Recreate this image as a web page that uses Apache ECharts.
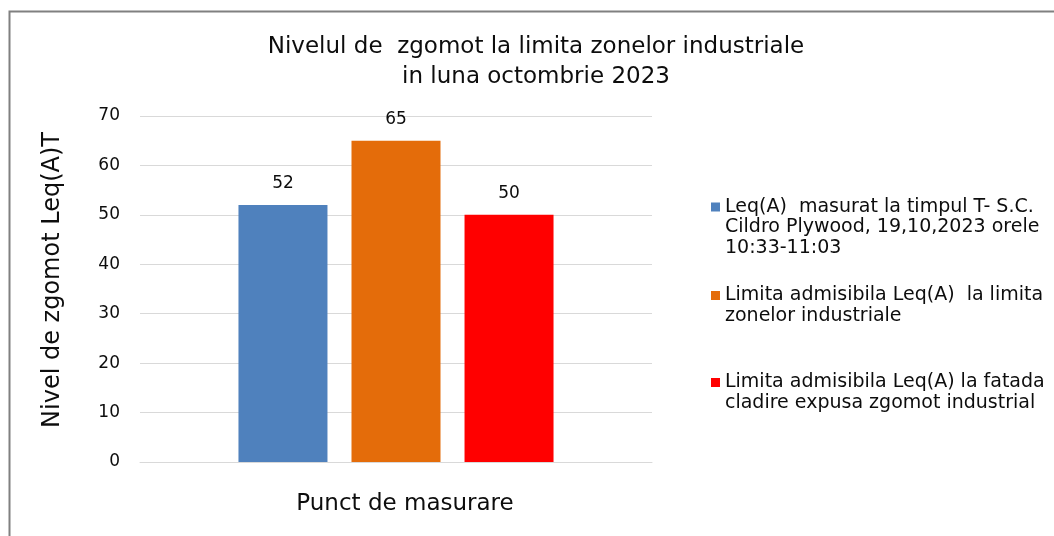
<!DOCTYPE html>
<html>
<head>
<meta charset="utf-8">
<script src="https://cdn.jsdelivr.net/npm/echarts@6/dist/echarts.min.js"></script>
<style>
html,body{margin:0;padding:0;background:#fff;}
#chart{width:1054px;height:536px;}
</style>
</head>
<body>
<div id="chart"></div>
<script>
// ---- data ----
const categories = [''];
const seriesNames = [
  'Leq(A)  masurat la timpul T- S.C.\nCildro Plywood, 19,10,2023 orele\n10:33-11:03',
  'Limita admisibila Leq(A)  la limita\nzonelor industriale',
  'Limita admisibila Leq(A) la fatada\ncladire expusa zgomot industrial'
];
const seriesValues = [52, 65, 50];
const seriesColors = ['#4F81BD', '#E46C0A', '#FF0000'];
const titleText = 'Nivelul de  zgomot la limita zonelor industriale\nin luna octombrie 2023';
const xAxisName = 'Punct de masurare';
const yAxisName = 'Nivel de zgomot Leq(A)T';
const yMin = 0, yMax = 70, yInterval = 10;

// ---- chart ----
const FONT = 'DejaVu Sans';
const TXT = '#0d0d0d';
const LH = 20.5;
const chart = echarts.init(document.getElementById('chart'), null, {renderer: 'canvas'});

// vertical centre of each legend marker (first text line)
const legendCenters = [207, 295.5, 382.5];
const legends = seriesNames.map((n, i) => {
  const lines = n.split('\n').length;
  const blockLines = 2 * lines - 1; // leading blank lines so first line sits at the marker
  return {
    orient: 'vertical',
    left: 711,
    top: legendCenters[i] - blockLines * LH / 2,
    padding: 0,
    itemWidth: 9,
    itemHeight: 9,
    icon: 'rect',
    selectedMode: false,
    data: [n],
    formatter: name => '\n'.repeat(lines - 1) + name,
    textStyle: {fontFamily: FONT, fontSize: 19, lineHeight: LH, color: TXT}
  };
});

const option = {
  animation: false,
  backgroundColor: '#fff',
  graphic: [{
    type: 'rect',
    left: 7, top: 9,
    shape: {width: 1100, height: 600},
    style: {fill: 'none', stroke: '#808080', lineWidth: 2},
    silent: true, z: -1
  }],
  title: {
    text: titleText,
    left: 536,
    top: 32,
    padding: 0,
    textAlign: 'center',
    textStyle: {fontFamily: FONT, fontSize: 23, fontWeight: 'normal', lineHeight: 30, color: TXT}
  },
  legend: legends,
  grid: {left: 140, right: 402, top: 116, bottom: 74, containLabel: false},
  xAxis: {
    type: 'category',
    data: categories,
    name: xAxisName,
    nameLocation: 'middle',
    nameGap: 31,
    nameTextStyle: {fontFamily: FONT, fontSize: 23, color: TXT, padding: [0, 0, 0, 18]},
    axisLine: {lineStyle: {color: '#d9d9d9', width: 1}},
    axisTick: {show: false},
    axisLabel: {show: false}
  },
  yAxis: {
    type: 'value',
    min: yMin, max: yMax, interval: yInterval,
    name: yAxisName,
    nameLocation: 'middle',
    nameGap: 75,
    nameTextStyle: {fontFamily: FONT, fontSize: 24, color: TXT, padding: [0, 0, 0, 18]},
    axisLine: {show: false},
    axisTick: {show: false},
    axisLabel: {fontFamily: FONT, fontSize: 17, color: TXT, margin: 20},
    splitLine: {lineStyle: {color: '#d9d9d9', width: 1}}
  },
  series: seriesNames.map((n, i) => ({
    name: n,
    type: 'bar',
    data: [seriesValues[i]],
    barWidth: 89,
    barGap: '27%',
    itemStyle: {color: seriesColors[i]},
    label: {
      show: true, position: 'top', distance: 13,
      fontFamily: FONT, fontSize: 17, color: TXT
    }
  }))
};
chart.setOption(option);
</script>
</body>
</html>
